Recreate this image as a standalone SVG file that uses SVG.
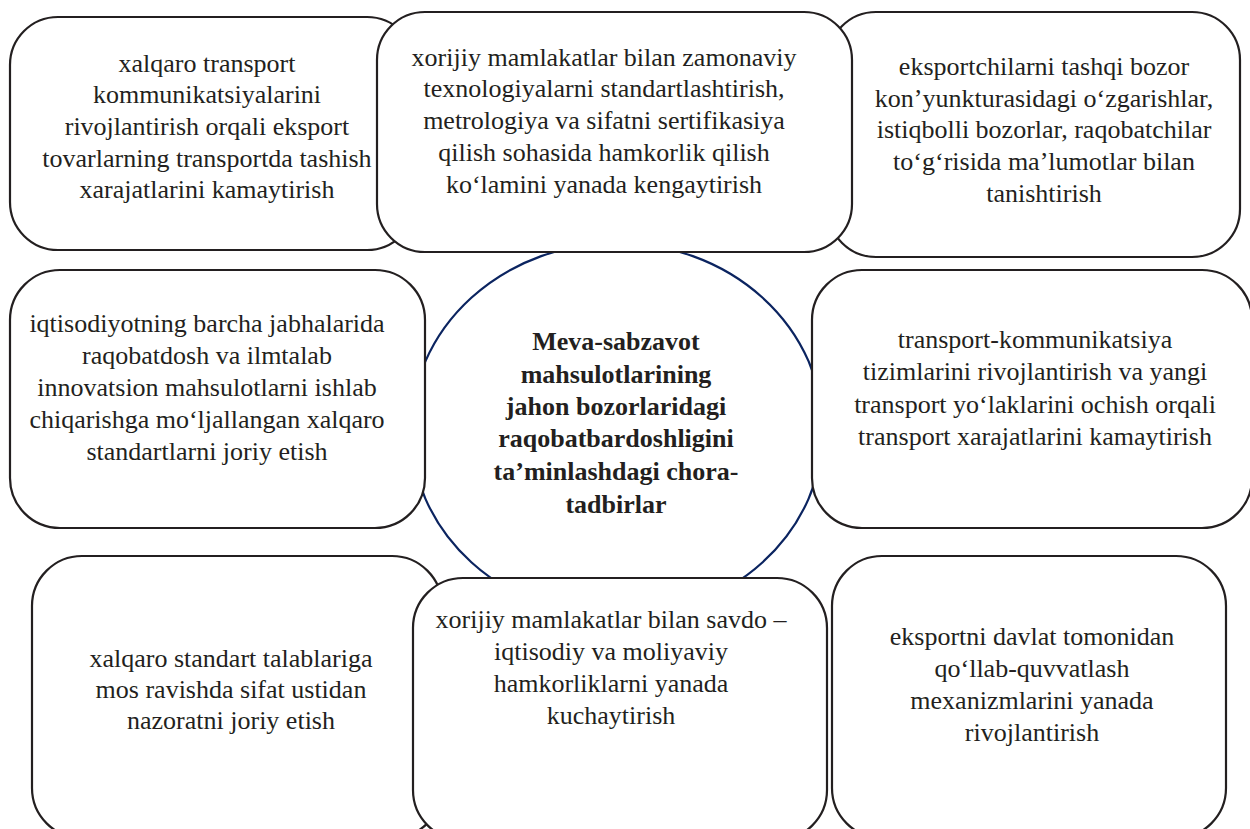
<svg xmlns="http://www.w3.org/2000/svg" width="1250" height="829" viewBox="0 0 1250 829">
<style>
.box{fill:#fff;stroke:#231f20;stroke-width:2.2}
.t{font-family:"Liberation Serif","Times New Roman",serif;font-size:26px;fill:#231f20;text-anchor:middle}
.b{font-weight:bold}
.ell{fill:#fff;stroke:#0b2460;stroke-width:2.2}
</style>
<rect width="1250" height="829" fill="#fff"/>
<g id="connectors"></g>
<g id="center">
<ellipse class="ell" cx="617" cy="430" rx="206" ry="187"/>
<text class="t b"><tspan x="616" y="350">Meva-sabzavot</tspan><tspan x="616" y="383">mahsulotlarining</tspan><tspan x="616" y="415">jahon bozorlaridagi</tspan><tspan x="616" y="447">raqobatbardoshligini</tspan><tspan x="616" y="480">ta’minlashdagi chora-</tspan><tspan x="616" y="513">tadbirlar</tspan></text>
</g>
<g id="n1">
<rect class="box" x="10" y="17" width="405" height="233" rx="48"/>
<text class="t"><tspan x="207" y="72">xalqaro transport</tspan><tspan x="207" y="103">kommunikatsiyalarini</tspan><tspan x="207" y="135">rivojlantirish orqali eksport</tspan><tspan x="207" y="167">tovarlarning transportda tashish</tspan><tspan x="207" y="198">xarajatlarini kamaytirish</tspan></text>
</g>
<g id="n3">
<rect class="box" x="828" y="12" width="412" height="245" rx="48"/>
<text class="t"><tspan x="1044" y="75">eksportchilarni tashqi bozor</tspan><tspan x="1044" y="107">kon’yunkturasidagi o‘zgarishlar,</tspan><tspan x="1044" y="138">istiqbolli bozorlar, raqobatchilar</tspan><tspan x="1044" y="170">to‘g‘risida ma’lumotlar bilan</tspan><tspan x="1044" y="202">tanishtirish</tspan></text>
</g>
<g id="n2">
<rect class="box" x="377" y="12" width="475" height="240" rx="48"/>
<text class="t"><tspan x="604" y="66">xorijiy mamlakatlar bilan zamonaviy</tspan><tspan x="604" y="97">texnologiyalarni standartlashtirish,</tspan><tspan x="604" y="129">metrologiya va sifatni sertifikasiya</tspan><tspan x="604" y="161">qilish sohasida hamkorlik qilish</tspan><tspan x="604" y="193">ko‘lamini yanada kengaytirish</tspan></text>
</g>
<g id="n4">
<rect class="box" x="10" y="270" width="415" height="258" rx="50"/>
<text class="t"><tspan x="207" y="332">iqtisodiyotning barcha jabhalarida</tspan><tspan x="207" y="364">raqobatdosh va ilmtalab</tspan><tspan x="207" y="396">innovatsion mahsulotlarni ishlab</tspan><tspan x="207" y="428">chiqarishga mo‘ljallangan xalqaro</tspan><tspan x="207" y="460">standartlarni joriy etish</tspan></text>
</g>
<g id="n6">
<rect class="box" x="812" y="270" width="440" height="258" rx="50"/>
<text class="t"><tspan x="1035" y="348">transport-kommunikatsiya</tspan><tspan x="1035" y="380">tizimlarini rivojlantirish va yangi</tspan><tspan x="1035" y="413">transport yo‘laklarini ochish orqali</tspan><tspan x="1035" y="445">transport xarajatlarini kamaytirish</tspan></text>
</g>
<g id="n7">
<rect class="box" x="32" y="556" width="410" height="282" rx="50"/>
<text class="t"><tspan x="231" y="667">xalqaro standart talablariga</tspan><tspan x="231" y="698">mos ravishda sifat ustidan</tspan><tspan x="231" y="729">nazoratni joriy etish</tspan></text>
</g>
<g id="n9">
<rect class="box" x="832" y="556" width="394" height="282" rx="50"/>
<text class="t"><tspan x="1032" y="645">eksportni davlat tomonidan</tspan><tspan x="1032" y="677">qo‘llab-quvvatlash</tspan><tspan x="1032" y="709">mexanizmlarini yanada</tspan><tspan x="1032" y="741">rivojlantirish</tspan></text>
</g>
<g id="n8">
<rect class="box" x="413" y="578" width="414" height="262" rx="50"/>
<text class="t"><tspan x="611" y="628">xorijiy mamlakatlar bilan savdo –</tspan><tspan x="611" y="660">iqtisodiy va moliyaviy</tspan><tspan x="611" y="692">hamkorliklarni yanada</tspan><tspan x="611" y="724">kuchaytirish</tspan></text>
</g>
</svg>
